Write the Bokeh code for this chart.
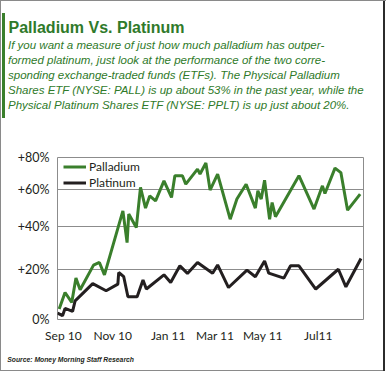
from datetime import datetime
from bokeh.plotting import figure
from bokeh.models import Title, Legend, LegendItem, FixedTicker, Range1d
from bokeh.embed import file_html
from bokeh.resources import INLINE

# ---------------- data ----------------
pall_dates = ["2010-09-03", "2010-09-10", "2010-09-18", "2010-09-23", "2010-09-28",
              "2010-10-14", "2010-10-21", "2010-10-27", "2010-11-18", "2010-11-23",
              "2010-11-25", "2010-12-04", "2010-12-09", "2010-12-15", "2010-12-20",
              "2010-12-27", "2011-01-06", "2011-01-15", "2011-01-19", "2011-01-28",
              "2011-02-01", "2011-02-15", "2011-02-18", "2011-02-25", "2011-03-02",
              "2011-03-11", "2011-03-26", "2011-04-03", "2011-04-14", "2011-04-25",
              "2011-04-28", "2011-05-02", "2011-05-06", "2011-05-12", "2011-05-15",
              "2011-05-19", "2011-06-16", "2011-07-04", "2011-07-14", "2011-07-17",
              "2011-07-29", "2011-08-05", "2011-08-13", "2011-08-28"]
pall_pct = [3.9, 10.3, 6.4, 16.2, 11.4,
            21.8, 23.0, 17.6, 48.3, 32.2,
            46.6, 39.6, 61.5, 49.8, 56.6,
            53.8, 65.4, 55.7, 68.5, 68.5,
            63.4, 72.6, 69.5, 76.4, 59.9,
            69.5, 43.9, 54.8, 63.4, 49.8,
            59.5, 54.8, 65.8, 43.9, 52.9,
            45.2, 68.5, 49.3, 62.4, 58.0,
            73.2, 70.4, 48.7, 57.6]

plat_dates = ["2010-09-01", "2010-09-07", "2010-09-10", "2010-09-19", "2010-09-22",
              "2010-10-13", "2010-10-29", "2010-11-12", "2010-11-13", "2010-11-19",
              "2010-11-24", "2010-12-05", "2010-12-12", "2010-12-16", "2011-01-06",
              "2011-01-14", "2011-01-25", "2011-02-03", "2011-02-15", "2011-03-05",
              "2011-03-11", "2011-03-24", "2011-04-15", "2011-04-25", "2011-05-06",
              "2011-05-11", "2011-05-29", "2011-06-06", "2011-06-16", "2011-07-06",
              "2011-08-02", "2011-08-11", "2011-08-29"]
plat_pct = [2.4, 1.4, 4.1, 3.0, 7.0,
            13.9, 11.0, 13.7, 18.6, 16.8,
            8.6, 8.6, 15.4, 11.7, 17.6,
            14.4, 21.5, 18.2, 23.0, 18.3,
            21.9, 12.3, 19.6, 16.8, 23.7,
            18.3, 16.2, 21.5, 21.5, 11.7,
            20.0, 12.6, 24.8]

y_tick_pct = [0, 20, 40, 60, 80]
y_tick_labels = ["0%", "+20%", "+40%", "+60%", "+80%"]
x_tick_dates = ["2010-09-08", "2010-11-06", "2011-01-11", "2011-03-08", "2011-05-04", "2011-07-09"]
x_tick_labels = ["Sep 10", "Nov 10", "Jan 11", "Mar 11", "May 11", "Jul11"]

title_text = "Palladium Vs. Platinum"
intro_lines = [
    "If you want a measure of just how much palladium has outper-",
    "formed platinum, just look at the performance of the two corre-",
    "sponding exchange-traded funds (ETFs). The Physical Palladium",
    "Shares ETF (NYSE: PALL) is up about 53% in the past year, while the",
    "Physical Platinum Shares ETF (NYSE: PPLT) is up just about 20%.",
]
source_text = "Source: Money Morning Staff Research"

# ---------------- helpers ----------------
def to_dt(s):
    return datetime.strptime(s, "%Y-%m-%d")

def to_ms(s):
    return (to_dt(s) - datetime(1970, 1, 1)).total_seconds() * 1000.0

def growth(p):
    return 1.0 + p / 100.0

GREEN = "#3a7f2c"
TEXT_GREEN = "#2f7a2a"
BLACK = "#231f20"
GRID = "#8c8c8c"

# ---------------- figure ----------------
W, H = 386, 371
FL, FT, FR, FB = 57, 157, 363, 319   # frame edges inside canvas

p = figure(width=W, height=H, output_backend="svg", toolbar_location=None,
           title_location=None,
           x_axis_type="datetime", y_axis_type="log",
           x_range=Range1d(to_dt("2010-09-01"), to_dt("2011-09-01")),
           y_range=Range1d(growth(0), growth(80)),
           min_border_left=FL, min_border_right=W - FR,
           min_border_top=FT, min_border_bottom=H - FB)
p.background_fill_color = "white"
p.border_fill_alpha = 0
p.outline_line_color = GRID
p.outline_line_width = 1
# page frame and green side bar painted as the element's CSS background
p.styles = {"background": (
    "linear-gradient(#8a8a8a,#8a8a8a) 0 0 / 1px 100% no-repeat,"
    "linear-gradient(#8a8a8a,#8a8a8a) 0 0 / 100% 1px no-repeat,"
    "linear-gradient(#2b2b2b,#2b2b2b) 383px 0 / 2px 371px no-repeat,"
    "linear-gradient(#8a8a8a,#8a8a8a) 0 370px / 385px 1px no-repeat,"
    "linear-gradient(#3a7f2c,#3a7f2c) 2px 13px / 3px 105px no-repeat,"
    "#ffffff")}

yt = [growth(v) for v in y_tick_pct]
xt = [to_ms(d) for d in x_tick_dates]
p.yaxis.ticker = FixedTicker(ticks=yt)
p.yaxis.major_label_overrides = {t: l for t, l in zip(yt, y_tick_labels)}
p.xaxis.ticker = FixedTicker(ticks=xt)
p.xaxis.major_label_overrides = {t: l for t, l in zip(xt, x_tick_labels)}

for ax in (p.xaxis, p.yaxis):
    ax.axis_line_color = None
    ax.major_tick_line_color = None
    ax.minor_tick_line_color = None
    ax.major_tick_out = 0
    ax.major_tick_in = 0
    ax.major_label_text_font = "Lato"
    ax.major_label_text_color = BLACK
p.xaxis.major_label_text_font_size = "12px"
p.yaxis.major_label_text_font_size = "12.5px"
p.yaxis.major_label_standoff = 8
p.xaxis.major_label_standoff = 8

p.xgrid.visible = False
p.ygrid.grid_line_color = GRID
p.ygrid.grid_line_width = 1

r_pall = p.line([to_dt(d) for d in pall_dates], [growth(v) for v in pall_pct],
                line_color=GREEN, line_width=3)
r_plat = p.line([to_dt(d) for d in plat_dates], [growth(v) for v in plat_pct],
                line_color=BLACK, line_width=3)

legend = Legend(items=[LegendItem(label="Palladium", renderers=[r_pall]),
                       LegendItem(label="Platinum", renderers=[r_plat])],
                location=(6, 129), orientation="vertical",
                background_fill_alpha=0, border_line_color=None,
                padding=0, margin=0, spacing=1,
                glyph_width=23, glyph_height=15, label_height=15,
                label_standoff=3,
                label_text_font="Lato", label_text_font_size="12px",
                label_text_color=BLACK)
p.add_layout(legend, "center")

# ---------------- header and source texts (titles in side panels) ----------------
# "above" panels stack outward from the frame; each text is centred in its panel
p.add_layout(Title(text=" ", standoff=43.0, text_font="Liberation Sans",
                   text_font_size="1px"), "above")
for line in reversed(intro_lines):
    p.add_layout(Title(text=line, align="left", offset=-49.5, standoff=1.2,
                       text_font="Liberation Sans", text_font_style="italic",
                       text_font_size="11.5px", text_color=TEXT_GREEN), "above")
p.add_layout(Title(text=title_text, align="left", offset=-49.0, standoff=1.8,
                   text_font="Liberation Sans", text_font_style="bold", text_font_size="16px",
                   text_color=TEXT_GREEN), "above")
p.add_layout(Title(text=" ", standoff=8.0, text_font="Liberation Sans",
                   text_font_size="1px"), "above")

p.add_layout(Title(text=source_text, align="left", offset=-50.3, standoff=17.0,
                   text_font="Liberation Sans", text_font_style="bold italic",
                   text_font_size="6.8px", text_color=BLACK), "below")

open("out.html", "w").write(file_html(p, INLINE))
